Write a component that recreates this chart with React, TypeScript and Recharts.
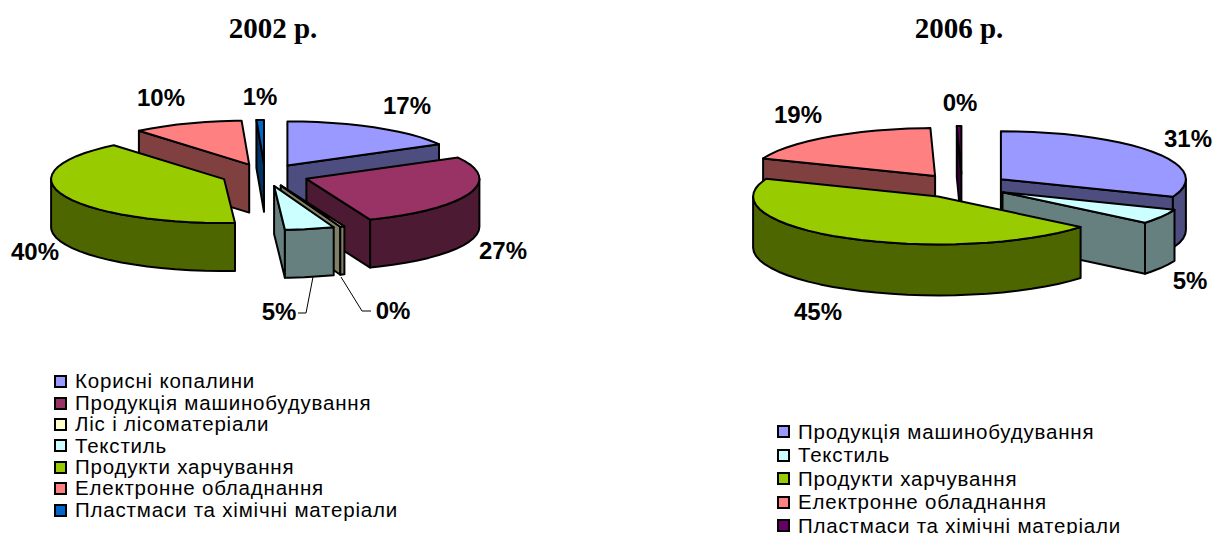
import { PieChart, Pie, Legend } from "recharts";

const names2002 = ["Корисні копалини", "Продукція машинобудування", "Ліс і лісоматеріали", "Текстиль", "Продукти харчування", "Електронне обладнання", "Пластмаси та хімічні матеріали"];
const values2002 = [17, 27, 0.4, 4.6, 40, 10.3, 0.7];
const colors2002 = ["#9999FF", "#993366", "#FFFFCC", "#CCFFFF", "#99CC00", "#FF8080", "#0066CC"];

const names2006 = ["Продукція машинобудування", "Текстиль", "Продукти харчування", "Електронне обладнання", "Пластмаси та хімічні матеріали"];
const values2006 = [31, 5, 45, 18.6, 0.4];
const colors2006 = ["#9999FF", "#CCFFFF", "#99CC00", "#FF8080", "#660066"];

// back to front, the pie slices overlap each other
const drawOrder2002 = [5, 6, 0, 4, 1, 2, 3];
const drawOrder2006 = [3, 4, 0, 1, 2];

const labelPos2002 = [[407, 105], [503, 250], [393, 310], [279, 311], [35, 251], [161, 97], [260, 96]];
const labelPos2006 = [[580, 138], [582, 280], [210, 311], [190, 114], [352, 102]];

// leader lines of the two small slices in 2002, index -> polyline
const leaders2002: Record<number, string> = {
  2: "341,277 362,311 371,311",
  3: "298,313 306,313 313,277",
};

const rows = (names: string[], values: number[], colors: string[]) =>
  names.map((name, i) => ({ name, value: values[i], fill: colors[i] }));

const darken = (hex: string) => {
  const n = parseInt(hex.slice(1), 16);
  const c = (s: number) => Math.round(((n >> s) & 255) / 2).toString(16).padStart(2, "0");
  return "#" + c(16) + c(8) + c(0);
};

const rad = (d: number) => (d * Math.PI) / 180;

function slice3d(opts: { squash: number; explode: number; depth: number }) {
  const { squash, explode, depth } = opts;
  return (p: any) => {
    // recharts angles are maths angles, turn them into clockwise from north
    const a0 = 90 - p.startAngle;
    const a1 = 90 - p.endAngle;
    const mid = (a0 + a1) / 2;
    const hx = p.cx + explode * Math.sin(rad(mid));
    const hy = p.cy - explode * squash * Math.cos(rad(mid));
    const rim = (a: number, dz = 0) => [
      hx + p.outerRadius * Math.sin(rad(a)),
      hy - p.outerRadius * squash * Math.cos(rad(a)) + dz,
    ];
    const arc = (from: number, to: number, dz = 0) => {
      const pts = [];
      for (let a = from; a < to; a += 5) pts.push(rim(a, dz));
      pts.push(rim(to, dz));
      return pts;
    };
    const poly = (pts: number[][]) => pts.map((q) => q[0].toFixed(1) + "," + q[1].toFixed(1)).join(" ");
    const side = darken(p.fill);
    const line = { stroke: "#000", strokeWidth: 2, strokeLinejoin: "round" as const };
    const wall = (a: number) => {
      const q = rim(a);
      return poly([[hx, hy], q, [q[0], q[1] + depth], [hx, hy + depth]]);
    };
    const f0 = Math.max(a0, 90);
    const f1 = Math.min(a1, 270);
    return (
      <g>
        {Math.sin(rad(a0)) < -0.001 && <polygon points={wall(a0)} fill={side} {...line} />}
        {Math.sin(rad(a1)) > 0.001 && <polygon points={wall(a1)} fill={side} {...line} />}
        {f1 > f0 && <polygon points={poly([...arc(f0, f1), ...arc(f0, f1, depth).reverse()])} fill={side} {...line} />}
        <polygon points={poly([[hx, hy], ...arc(a0, a1)])} fill={p.fill} {...line} />
      </g>
    );
  };
}

const percentLabel = (pos: number[][], leaders: Record<number, string>) => (p: any) => (
  <g key={p.index}>
    {leaders[p.index] && <polyline points={leaders[p.index]} fill="none" stroke="#000" strokeWidth={1} />}
    <text
      x={pos[p.index][0]}
      y={pos[p.index][1]}
      textAnchor="middle"
      dominantBaseline="central"
      fontFamily="Liberation Sans"
      fontWeight="bold"
      fontSize={24}
      fill="#000"
    >
      {Math.round(p.value)}%
    </text>
  </g>
);

const legendBox = (rowHeight: number) => (props: any) => {
  // every layer pie adds its own entries, keep the first of each
  const seen = new Set();
  const items = props.payload.filter((e: any) => !seen.has(e.value) && seen.add(e.value));
  return (
    <div style={{ fontFamily: "Liberation Sans", fontSize: 20.5, letterSpacing: 0.8, lineHeight: 1, color: "#000" }}>
      {items.map((e: any) => (
        <div key={e.value} style={{ height: rowHeight, display: "flex", alignItems: "center", whiteSpace: "nowrap" }}>
          <span style={{ width: 9, height: 9, border: "2px solid #000", background: e.color, marginRight: 8, flex: "none" }} />
          {e.value}
        </div>
      ))}
    </div>
  );
};

function Pie3d({ title, titleX, data, order, labels, leaders, cx, cy, r, squash, explode, depth, legendTop, legendLeft, rowHeight }: any) {
  const shape = slice3d({ squash, explode, depth });
  return (
    <PieChart width={607} height={534} margin={{ top: 0, right: 0, bottom: 0, left: 0 }}>
      <text x={titleX} y={28} textAnchor="middle" dominantBaseline="central" fontFamily="Liberation Serif" fontWeight="bold" fontSize={29} fill="#000">
        {title}
      </text>
      {order.map((idx: number, n: number) => (
        <Pie
          key={idx}
          data={data}
          dataKey="value"
          nameKey="name"
          cx={cx}
          cy={cy}
          outerRadius={r}
          startAngle={90}
          endAngle={-270}
          stroke="none"
          isAnimationActive={false}
          label={n === order.length - 1 ? percentLabel(labels, leaders) : false}
          labelLine={false}
          shape={(p: any) => (p.index === idx ? shape(p) : <g />)}
        />
      ))}
      <Legend
        itemSorter={null}
        content={legendBox(rowHeight)}
        wrapperStyle={{ position: "absolute", left: legendLeft, top: legendTop, width: 400, height: "auto", bottom: "auto" }}
      />
    </PieChart>
  );
}

export default function App() {
  return (
    <div style={{ position: "absolute", left: 0, top: 0, width: 1215, height: 534, overflow: "hidden", background: "#fff" }}>
      <div style={{ position: "absolute", left: 0, top: 0 }}>
        <Pie3d
          title="2002 р."
          titleX={273}
          data={rows(names2002, values2002, colors2002)}
          order={drawOrder2002}
          labels={labelPos2002}
          leaders={leaders2002}
          cx={265}
          cy={175}
          r={173}
          squash={0.254}
          explode={44}
          depth={48}
          legendLeft={54}
          legendTop={371}
          rowHeight={21.4}
        />
      </div>
      <div style={{ position: "absolute", left: 608, top: 0 }}>
        <Pie3d
          title="2006 р."
          titleX={351}
          data={rows(names2006, values2006, colors2006)}
          order={drawOrder2006}
          labels={labelPos2006}
          leaders={{}}
          cx={354}
          cy={186}
          r={185}
          squash={0.259}
          explode={47}
          depth={51}
          legendLeft={169}
          legendTop={420}
          rowHeight={23.5}
        />
      </div>
    </div>
  );
}
